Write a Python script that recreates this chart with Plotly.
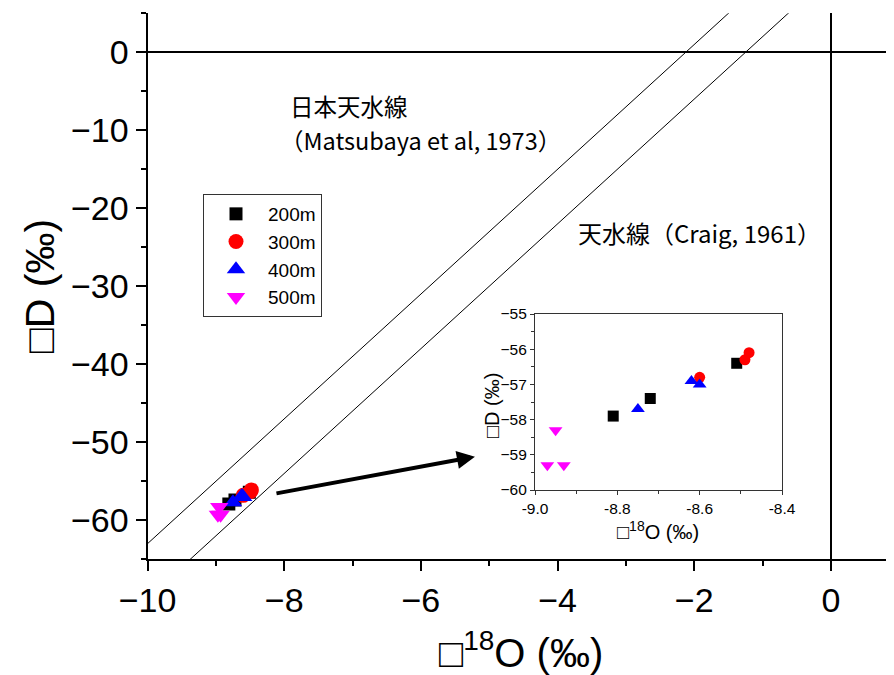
import plotly.graph_objects as go

# ---------------- data ----------------
depth_labels = ["200m", "300m", "400m", "500m"]
d18O_200 = [-8.81, -8.72, -8.51]
dD_200 = [-57.9, -57.4, -56.4]
d18O_300 = [-8.60, -8.49, -8.48]
dD_300 = [-56.8, -56.3, -56.1]
d18O_400 = [-8.75, -8.62, -8.60]
dD_400 = [-57.7, -56.9, -57.0]
d18O_500 = [-8.95, -8.97, -8.93]
dD_500 = [-58.3, -59.3, -59.3]

# meteoric water lines (end points)
jmwl_x = [-10.0, 0.0]
jmwl_y = [-63.0, 17.0]   # Matsubaya et al. 1973
gmwl_x = [-10.0, 0.0]
gmwl_y = [-70.0, 10.0]   # Craig 1961

# axis ranges and ticks
main_xrange = [-10, 1.04]
main_yrange = [-65, 5]
main_xstep, main_ystep = 2, 10
inset_xrange = [-9.0, -8.4]
inset_yrange = [-60, -55]
inset_xticks = [-9.0, -8.8, -8.6, -8.4]
inset_xticklabels = ["-9.0", "-8.8", "-8.6", "-8.4"]
inset_xminor = [-8.9, -8.7, -8.5]
inset_ystep = 1

# arrow from cluster to inset (data coords of main axes)
arrow_tail = (-8.135, -56.58)
arrow_head = (-5.209, -51.84)

# ---------------- styles ----------------
W, H = 894, 675
OFF = 8  # page body margin offset of the figure in the browser window
colors = ["#000000", "#ff0000", "#0000ff", "#ff00ff"]
symbols = ["square", "circle", "triangle-up", "triangle-down"]
main_sizes = [13, 15, 16, 16]
inset_sizes = [11, 11, 12, 12]
LAT = "Liberation Sans, Arial, sans-serif"
CJK = "Noto Sans CJK JP, sans-serif"


def px(xp):
    return (xp - OFF) / W


def py(yp):
    return 1 - (yp - OFF) / H


series = [(d18O_200, dD_200), (d18O_300, dD_300), (d18O_400, dD_400), (d18O_500, dD_500)]

fig = go.Figure()

fig.add_trace(go.Scatter(x=jmwl_x, y=jmwl_y, mode="lines", line=dict(color="black", width=1),
                         showlegend=False, hoverinfo="skip"))
fig.add_trace(go.Scatter(x=gmwl_x, y=gmwl_y, mode="lines", line=dict(color="black", width=1),
                         showlegend=False, hoverinfo="skip"))

for (xs, ys), name, c, s, sz in zip(series, depth_labels, colors, symbols, main_sizes):
    fig.add_trace(go.Scatter(x=xs, y=ys, mode="markers", name=name,
                             marker=dict(symbol=s, color=c, size=sz, line=dict(width=0)),
                             xaxis="x", yaxis="y"))

for (xs, ys), name, c, s, sz in zip(series, depth_labels, colors, symbols, inset_sizes):
    fig.add_trace(go.Scatter(x=xs, y=ys, mode="markers", name=name, showlegend=False,
                             marker=dict(symbol=s, color=c, size=sz, line=dict(width=0)),
                             xaxis="x2", yaxis="y2"))

main_ax = dict(showgrid=False, showline=True, linecolor="black", linewidth=2,
               ticks="outside", ticklen=10, tickwidth=2, tickcolor="black",
               zeroline=True, zerolinecolor="black", zerolinewidth=2, automargin=False,
               tickmode="linear", tick0=0, tickformat="d",
               tickfont=dict(family=LAT, size=34, color="black"))

inset_ax = dict(showgrid=False, showline=True, linecolor="#333333", linewidth=1.3, mirror=True,
                ticks="outside", ticklen=4, tickwidth=1.2, tickcolor="#333333", zeroline=False,
                automargin=False,
                tickfont=dict(family=LAT, size=15.5, color="black"))

fig.update_layout(
    template="none",
    width=W, height=H,
    margin=dict(l=0, r=0, t=0, b=0, pad=0, autoexpand=False),
    paper_bgcolor="white", plot_bgcolor="white",
    xaxis=dict(main_ax, domain=[px(147.5), 1.0], range=main_xrange, anchor="y", dtick=main_xstep,
               minor=dict(dtick=main_xstep / 2, ticklen=5, tickwidth=2, tickcolor="black", ticks="outside")),
    yaxis=dict(main_ax, domain=[py(559.3), py(13.3)], range=main_yrange, anchor="x", dtick=main_ystep,
               minor=dict(dtick=main_ystep / 2, ticklen=5, tickwidth=2, tickcolor="black", ticks="outside")),
    xaxis2=dict(inset_ax, domain=[px(535), px(782)], range=inset_xrange, anchor="y2",
                tickmode="array", tickvals=inset_xticks, ticktext=inset_xticklabels,
                minor=dict(tickmode="array", tickvals=inset_xminor, ticklen=2.5, tickwidth=1,
                           tickcolor="#333333", ticks="outside")),
    yaxis2=dict(inset_ax, domain=[py(490), py(314)], range=inset_yrange, anchor="x2",
                tickmode="linear", tick0=-60, dtick=inset_ystep, tickformat="d",
                minor=dict(dtick=inset_ystep / 2, ticklen=2.5, tickwidth=1, tickcolor="#333333", ticks="outside")),
    legend=dict(x=px(203), y=py(194), xanchor="left", yanchor="top",
                bordercolor="#333333", borderwidth=1, bgcolor="white",
                font=dict(family=LAT, size=19, color="black"),
                itemwidth=54, tracegroupgap=0),
    showlegend=True,
)

annotations = [
    # main axis titles
    dict(text="□D (‰)", x=px(40), y=py(286), xref="paper", yref="paper",
         textangle=-90, showarrow=False, font=dict(family=LAT, size=41, color="black"),
         xanchor="center", yanchor="middle"),
    dict(text="□<sup>18</sup>O (‰)", x=px(521), y=py(650), xref="paper", yref="paper",
         showarrow=False, font=dict(family=LAT, size=40, color="black"),
         xanchor="center", yanchor="middle"),
    # inset axis titles
    dict(text="□D (‰)", x=px(492), y=py(405), xref="paper", yref="paper",
         textangle=-90, showarrow=False, font=dict(family=LAT, size=20, color="black"),
         xanchor="center", yanchor="middle"),
    dict(text="□<sup>18</sup>O (‰)", x=px(658), y=py(530), xref="paper", yref="paper",
         showarrow=False, font=dict(family=LAT, size=20, color="black"),
         xanchor="center", yanchor="middle"),
    # line labels
    dict(text="日本天水線", x=px(288), y=py(106), xref="paper", yref="paper",
         showarrow=False, font=dict(family=CJK, size=23.5, color="black"),
         xanchor="left", yanchor="middle"),
    dict(text="（Matsubaya et al, 1973）", x=px(278), y=py(140), xref="paper", yref="paper",
         showarrow=False, font=dict(family=CJK, size=23.5, color="black"),
         xanchor="left", yanchor="middle"),
    dict(text="天水線（Craig, 1961）", x=px(576), y=py(232), xref="paper", yref="paper",
         showarrow=False, font=dict(family=CJK, size=24, color="black"),
         xanchor="left", yanchor="middle"),
    # arrow
    dict(text="", x=arrow_head[0], y=arrow_head[1], ax=arrow_tail[0], ay=arrow_tail[1],
         xref="x", yref="y", axref="x", ayref="y", showarrow=True,
         arrowhead=2, arrowsize=0.9, arrowwidth=4, arrowcolor="black"),
]
fig.update_layout(annotations=annotations)

fig.write_html("out.html")
